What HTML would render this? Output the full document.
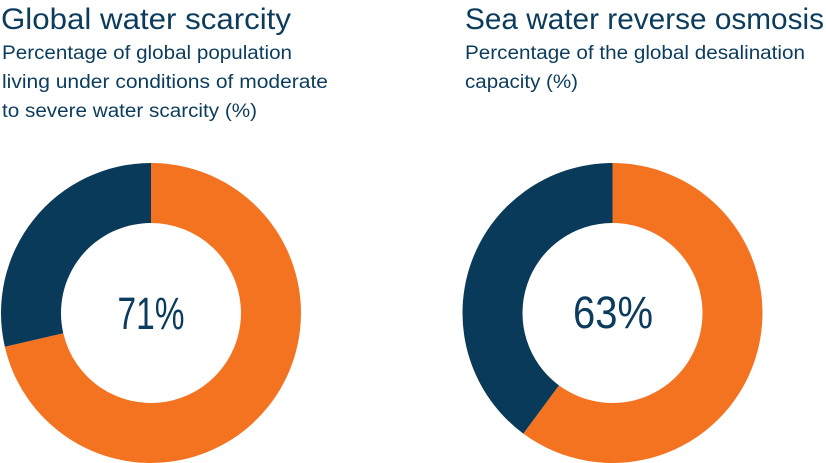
<!DOCTYPE html>
<html>
<head>
<meta charset="utf-8">
<style>
  html, body { margin: 0; padding: 0; background: #ffffff; }
  body { width: 826px; height: 463px; overflow: hidden; }
  svg { display: block; }
  text { font-family: "Liberation Sans", "DejaVu Sans", sans-serif; fill: #0b3c5d; }
</style>
</head>
<body>
<svg width="826" height="463" viewBox="0 0 826 463" xmlns="http://www.w3.org/2000/svg">
  <!-- Left titles -->
  <text x="1" y="29" font-size="30" textLength="290" lengthAdjust="spacingAndGlyphs">Global water scarcity</text>
  <text x="2" y="59" font-size="19" textLength="290" lengthAdjust="spacingAndGlyphs">Percentage of global population</text>
  <text x="2" y="88" font-size="19" textLength="326" lengthAdjust="spacingAndGlyphs">living under conditions of moderate</text>
  <text x="2" y="117" font-size="19" textLength="255" lengthAdjust="spacingAndGlyphs">to severe water scarcity (%)</text>

  <!-- Right titles -->
  <text x="465" y="29" font-size="30" textLength="359" lengthAdjust="spacingAndGlyphs">Sea water reverse osmosis</text>
  <text x="465" y="59" font-size="19" textLength="340" lengthAdjust="spacingAndGlyphs">Percentage of the global desalination</text>
  <text x="465" y="88" font-size="19" textLength="113" lengthAdjust="spacingAndGlyphs">capacity (%)</text>

  <!-- Left donut -->
  <path d="M151,163 A150,150 0 1 1 4.84,346.75 L63.30,333.25 A90,90 0 1 0 151,223 Z" fill="#f37321"/>
  <path d="M4.84,346.75 A150,150 0 0 1 151,163 L151,223 A90,90 0 0 0 63.30,333.25 Z" fill="#0a3a5a"/>
  <text x="151" y="329" font-size="45" text-anchor="middle" textLength="67" lengthAdjust="spacingAndGlyphs">71%</text>

  <!-- Right donut -->
  <path d="M612.5,163 A150,150 0 1 1 523.28,433.59 L558.97,385.35 A90,90 0 1 0 612.5,223 Z" fill="#f37321"/>
  <path d="M523.28,433.59 A150,150 0 0 1 612.5,163 L612.5,223 A90,90 0 0 0 558.97,385.35 Z" fill="#0a3a5a"/>
  <text x="613" y="328" font-size="45" text-anchor="middle" textLength="80" lengthAdjust="spacingAndGlyphs">63%</text>
</svg>
</body>
</html>
